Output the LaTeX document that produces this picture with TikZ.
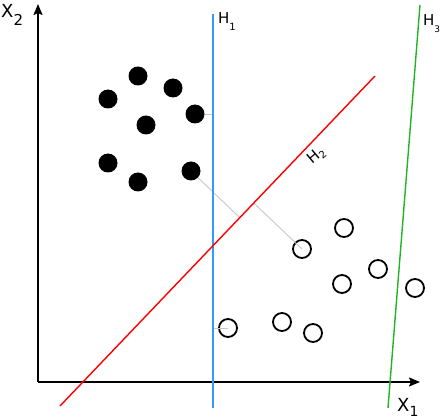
\documentclass[tikz,border=0pt]{standalone}
\usepackage{fontspec}
\setmainfont{DejaVu Sans}
\usetikzlibrary{arrows.meta,calc}
\begin{document}
\begin{tikzpicture}[x=1pt,y=-1pt,
  axis/.style={line width=1.8pt,-{Stealth[length=11pt,width=9pt,inset=2pt]}},
  full/.style={circle,fill=black,inner sep=0pt,minimum size=19pt},
  hollow/.style={circle,draw=black,line width=1.8pt,inner sep=0pt,minimum size=18pt},
  margin/.style={draw=black!22,line width=0.9pt},
  lab/.style={inner sep=0pt,anchor=base west,font=\fontsize{18}{18}\selectfont},
  hlab/.style={inner sep=0pt,anchor=base west,font=\fontsize{15}{15}\selectfont}]
\useasboundingbox (0,0) rectangle (440,420);
% axes
\coordinate (o) at (38,382);
\coordinate (ytop) at (38,4);
\coordinate (xend) at (420,382);
\draw[axis] (o) -- (ytop);
\draw[axis] (o) -- (xend);
\node[lab] (x2) at (1,18) {X\raisebox{-8pt}{\fontsize{15}{15}\selectfont 2}};
\node[lab] (x1) at (397,411) {X\raisebox{-5pt}{\fontsize{14}{14}\selectfont 1}};
% hyperplanes
\coordinate (h1a) at (213,14);
\coordinate (h1b) at (213,408);
\coordinate (h2a) at (60,406);
\coordinate (h2b) at (375,76);
\coordinate (h3a) at (420,5);
\coordinate (h3b) at (388,408);
% points
\node[full] (p1) at (138,76) {};
\node[full] (p2) at (108,99) {};
\node[full] (p3) at (173,88) {};
\node[full] (p4) at (195,114) {};
\node[full] (p5) at (146,125) {};
\node[full] (p6) at (108,163) {};
\node[full] (p7) at (138,182) {};
\node[full] (p8) at (191,171) {};
\node[hollow] (q1) at (302,249) {};
\node[hollow] (q2) at (344,228) {};
\node[hollow] (q3) at (378,269) {};
\node[hollow] (q4) at (342,284) {};
\node[hollow] (q5) at (415,288) {};
\node[hollow] (q6) at (228,328) {};
\node[hollow] (q7) at (282,322) {};
\node[hollow] (q8) at (313,333) {};
% margins
\coordinate (f1) at ($(h1a)!(p4.center)!(h1b)$);
\coordinate (f2) at ($(h1a)!(q6.center)!(h1b)$);
\coordinate (f3) at ($(h2a)!(p8.center)!(h2b)$);
\coordinate (f4) at ($(h2a)!(q1.center)!(h2b)$);
\draw[margin] (p4) -- (f1);
\draw[margin] (q6.center) -- (f2);
\draw[margin] (p8) -- (f3);
\draw[margin] (q1.center) -- (f4);
% lines
\draw[line width=1.4pt,draw={rgb,255:red,51;green,153;blue,255}] (h1a) -- (h1b);
\draw[line width=1.4pt,draw={rgb,255:red,255;green,0;blue,0}] (h2a) -- (h2b);
\draw[line width=1.4pt,draw={rgb,255:red,34;green,180;blue,34}] (h3a) -- (h3b);
\node[hlab] (h1l) at (218,24) {H\raisebox{-7pt}{\fontsize{10}{10}\selectfont 1}};
\node[hlab] (h3l) at (423,26) {H\raisebox{-7pt}{\fontsize{9}{9}\selectfont 3}};
\node[hlab,rotate=40] (h2l) at (312,165) {H\raisebox{-3pt}{\fontsize{10}{10}\selectfont 2}};
\end{tikzpicture}
\end{document}
